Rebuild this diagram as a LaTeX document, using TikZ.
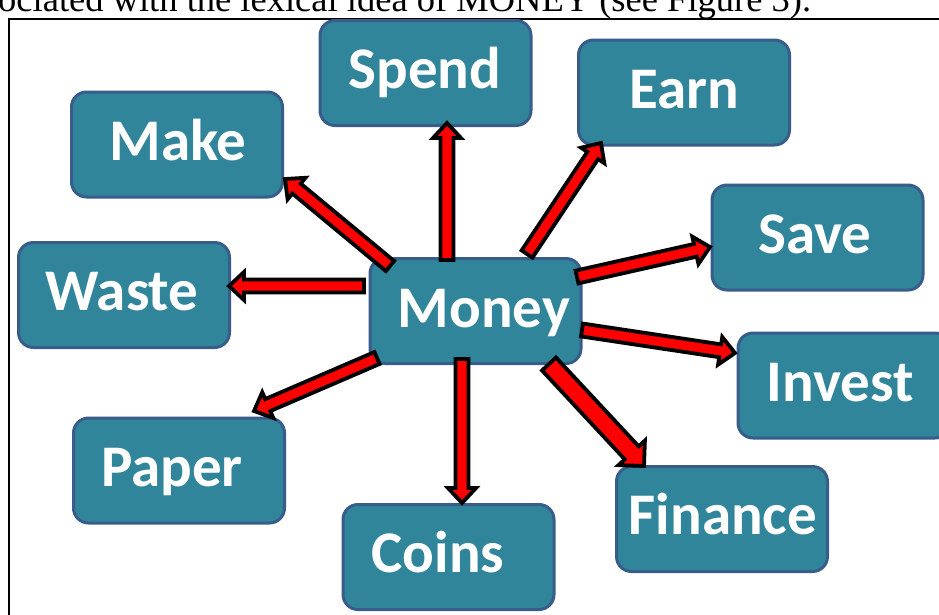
\documentclass[tikz,border=0pt]{standalone}
\usepackage{fontspec}
\setmainfont{Liberation Serif}
\newfontfamily\lblfont{Carlito}
\usetikzlibrary{calc}
\definecolor{boxfill}{RGB}{49,133,155}
\definecolor{boxline}{RGB}{56,93,138}
\definecolor{arrred}{RGB}{255,0,0}
\tikzset{
  box/.style={rounded corners=15pt, fill=boxfill, draw=boxline, line width=3pt,
    minimum width=211pt, minimum height=105pt, inner sep=0pt},
  lbl/.style={anchor=base, text=white, inner sep=0pt,
    font=\lblfont\bfseries\fontsize{59}{61}\selectfont},
  blockarr/.style={fill=arrred, draw=black, line width=3.8pt, line join=miter},
}
% tail, tip, half shaft width, half head width, head length
\newcommand\blockarrow[5]{%
  \coordinate (ba-h) at ($(#2)!#5!(#1)$);
  \draw[blockarr] ($(#1)!#3!90:(#2)$) -- ($(ba-h)!#3!90:(#2)$) -- ($(ba-h)!#4!90:(#2)$)
    -- (#2) -- ($(ba-h)!#4!-90:(#2)$) -- ($(ba-h)!#3!-90:(#2)$) -- ($(#1)!#3!-90:(#2)$) -- cycle;
}
\begin{document}
\begin{tikzpicture}[x=1pt,y=-1pt]
\useasboundingbox (0,0) rectangle (939,614);
\clip (0,0) rectangle (939,614);
\fill[white] (0,0) rectangle (939,614);
% cut caption line and frame
\node[anchor=base west, inner sep=0pt, font=\fontsize{36.5}{38}\selectfont] (caption) at (-2,11)
  {ociated with the lexical idea of MONEY (see Figure 3).};
\draw[line width=2pt] (9,19) rectangle (1000,700);
% boxes
\node[box] (spend) at (425.5,73) {};
\node[box] (earn) at (684,92.5) {};
\node[box] (make) at (177,144.5) {};
\node[box] (save) at (817.5,237.5) {};
\node[box] (waste) at (124,295) {};
\node[box] (money) at (475.5,311) {};
\node[box, minimum width=212pt] (invest) at (844,385.5) {};
\node[box] (paper) at (179,470.5) {};
\node[box] (finance) at (722,519) {};
\node[box] (coins) at (448.5,557) {};
% labels
\node[lbl] (spendl) at (425,88) {Spend};
\node[lbl] (earnl) at (684,108) {Earn};
\node[lbl] (makel) at (178,160) {Make};
\node[lbl] (savel) at (815,253) {Save};
\node[lbl] (wastel) at (122,310) {Waste};
\node[lbl] (moneyl) at (484,327) {Money};
\node[lbl] (investl) at (840,401) {Invest};
\node[lbl] (paperl) at (172,486) {Paper};
\node[lbl] (financel) at (723,534) {Finance};
\node[lbl] (coinsl) at (438,572) {Coins};
% arrow end points
\coordinate (m-spend) at (447,260);   \coordinate (to-spend) at (447,123);
\coordinate (m-earn) at (527,254);    \coordinate (to-earn) at (601,143);
\coordinate (m-make) at (390,266);    \coordinate (to-make) at (285,179);
\coordinate (m-save) at (577,277);    \coordinate (to-save) at (710,247);
\coordinate (m-waste) at (364,286);   \coordinate (to-waste) at (229,286);
\coordinate (m-invest) at (582,330);  \coordinate (to-invest) at (735,353);
\coordinate (m-finance) at (549,364); \coordinate (to-finance) at (644,466);
\coordinate (m-coins) at (462,359);   \coordinate (to-coins) at (462,503);
\coordinate (m-paper) at (377,358);   \coordinate (to-paper) at (254,411);
% arrows
\blockarrow{m-spend}{to-spend}{6.5pt}{14pt}{15pt}
\blockarrow{m-earn}{to-earn}{6.5pt}{14pt}{15pt}
\blockarrow{m-make}{to-make}{6.5pt}{14pt}{15pt}
\blockarrow{m-save}{to-save}{6.5pt}{14pt}{15pt}
\blockarrow{m-waste}{to-waste}{6.5pt}{14pt}{15pt}
\blockarrow{m-invest}{to-invest}{6.5pt}{14pt}{15pt}
\blockarrow{m-finance}{to-finance}{9.5pt}{18pt}{18pt}
\blockarrow{m-coins}{to-coins}{6.5pt}{14pt}{15pt}
\blockarrow{m-paper}{to-paper}{6.5pt}{14pt}{15pt}
\end{tikzpicture}
\end{document}
